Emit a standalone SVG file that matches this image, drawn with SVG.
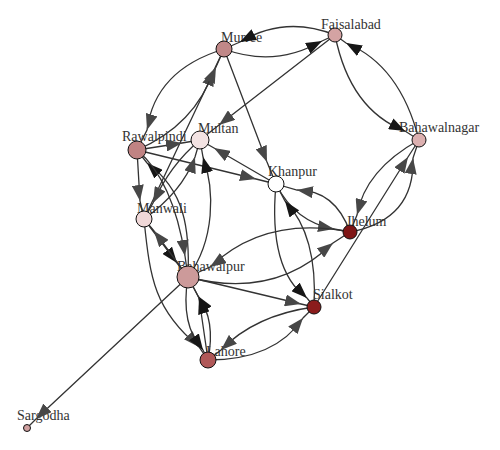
<svg xmlns="http://www.w3.org/2000/svg" width="500" height="450" viewBox="0 0 500 450">
<style>
.lbl{font-family:"Liberation Serif","DejaVu Serif",serif;font-size:14px;fill:#333}
.e{fill:none;stroke:#333;stroke-width:1.3}
.k{marker-mid:url(#ab)}
.g{marker-mid:url(#ag)}
.n{stroke:#111;stroke-width:1}
</style>
<defs>
<marker id="ab" viewBox="0 0 16 12" refX="16" refY="6" markerWidth="16" markerHeight="12" orient="auto" markerUnits="userSpaceOnUse"><path d="M0,0 L16,6 L0,12 Z" fill="#161616"/></marker>
<marker id="ag" viewBox="0 0 16 12" refX="16" refY="6" markerWidth="16" markerHeight="12" orient="auto" markerUnits="userSpaceOnUse"><path d="M0,0 L16,6 L0,12 Z" fill="#474747"/></marker>
</defs>
<rect width="500" height="450" fill="#fff"/>
<g id="labels">
<text class="lbl" x="221" y="42">Murree</text>
<text class="lbl" x="321" y="29">Faisalabad</text>
<text class="lbl" x="399" y="132">Bahawalnagar</text>
<text class="lbl" x="122" y="141">Rawalpindi</text>
<text class="lbl" x="198" y="133">Multan</text>
<text class="lbl" x="268" y="176">Khanpur</text>
<text class="lbl" x="346" y="226">Jhelum</text>
<text class="lbl" x="137" y="213">Manwali</text>
<text class="lbl" x="177" y="271">Bahawalpur</text>
<text class="lbl" x="313" y="299">Sialkot</text>
<text class="lbl" x="206" y="356">Lahore</text>
<text class="lbl" x="17" y="420">Sargodha</text>
</g>
<g id="edges">
<path class="e k" d="M335,35 Q285,15 240,42 L224,49"/>
<path class="e k" d="M224,49 Q275,68 322,41 L335,35"/>
<path class="e k" d="M335,35 Q350,110 405,131 L419,140"/>
<path class="e k" d="M419,140 Q400,65 346,43 L335,35"/>
<path class="e g" d="M335,35 L219,125 L200,140"/>
<path class="e g" d="M224,49 L267,162 L276,184"/>
<path class="e g" d="M224,49 Q155,70 147,130 L137,150"/>
<path class="e g" d="M137,150 Q195,125 214,70 L224,49"/>
<path class="e g" d="M144,219 L216,67 L224,49"/>
<path class="e g" d="M137,150 L182,143 L200,140"/>
<path class="e g" d="M137,150 L256,179 L276,184"/>
<path class="e g" d="M276,184 L214,148 L200,140"/>
<path class="e g" d="M137,150 L140,201 L144,219"/>
<path class="e g" d="M200,140 Q170,165 153,203 L144,219"/>
<path class="e g" d="M144,219 Q182,192 195,157 L200,140"/>
<path class="e k" d="M188,277 C190,230 185,190 147,163 L137,150"/>
<path class="e g" d="M137,150 Q173,180 185,256 L188,277"/>
<path class="e k" d="M188,277 C215,240 215,190 203,157 L200,140"/>
<path class="e k" d="M144,219 L177,263 L188,277"/>
<path class="e g" d="M188,277 L154,231 L144,219"/>
<path class="e g" d="M350,232 Q335,190 297,190 L276,184"/>
<path class="e g" d="M276,184 Q295,222 334,229 L350,232"/>
<path class="e k" d="M314,307 Q318,235 285,201 L276,184"/>
<path class="e k" d="M276,184 Q268,270 307,298 L314,307"/>
<path class="e g" d="M419,140 Q365,170 357,215 L350,232"/>
<path class="e g" d="M350,232 Q415,220 413,158 L419,140"/>
<path class="e g" d="M314,307 L408,157 L419,140"/>
<path class="e g" d="M350,232 Q265,215 210,267 L188,277"/>
<path class="e g" d="M188,277 Q275,300 333,243 L350,232"/>
<path class="e g" d="M188,277 L301,304 L314,307"/>
<path class="e g" d="M188,277 L36,419 L27,428"/>
<path class="e g" d="M144,219 C150,280 155,310 199,347 L208,360"/>
<path class="e k" d="M188,277 Q180,325 203,350 L208,360"/>
<path class="e k" d="M208,360 Q216,320 198,296 L188,277"/>
<path class="e k" d="M208,360 L199,298 L188,277"/>
<path class="e g" d="M314,307 Q255,315 221,350 L208,360"/>
<path class="e g" d="M208,360 Q275,360 303,318 L314,307"/>
</g>
<g id="node-murree"><circle class="n" cx="224" cy="49" r="8" fill="#c08888"/></g>
<g id="node-faisalabad"><circle class="n" cx="335" cy="35" r="7" fill="#d4a3a3"/></g>
<g id="node-bahawalnagar"><circle class="n" cx="419" cy="140" r="7" fill="#dcb0b0"/></g>
<g id="node-rawalpindi"><circle class="n" cx="137" cy="150" r="9" fill="#c08383"/></g>
<g id="node-multan"><circle class="n" cx="200" cy="140" r="9" fill="#f3e3e3"/></g>
<g id="node-khanpur"><circle class="n" cx="276" cy="184" r="8" fill="#ffffff"/></g>
<g id="node-jhelum"><circle class="n" cx="350" cy="232" r="7" fill="#7f1515"/></g>
<g id="node-manwali"><circle class="n" cx="144" cy="219" r="8" fill="#f0d8d8"/></g>
<g id="node-bahawalpur"><circle class="n" cx="188" cy="277" r="11" fill="#cc9a9a"/></g>
<g id="node-sialkot"><circle class="n" cx="314" cy="307" r="7" fill="#8b1c1c"/></g>
<g id="node-lahore"><circle class="n" cx="208" cy="360" r="8" fill="#b05858"/></g>
<g id="node-sargodha"><circle class="n" cx="27" cy="428" r="3.5" fill="#d0a0a0"/></g>
</svg>
